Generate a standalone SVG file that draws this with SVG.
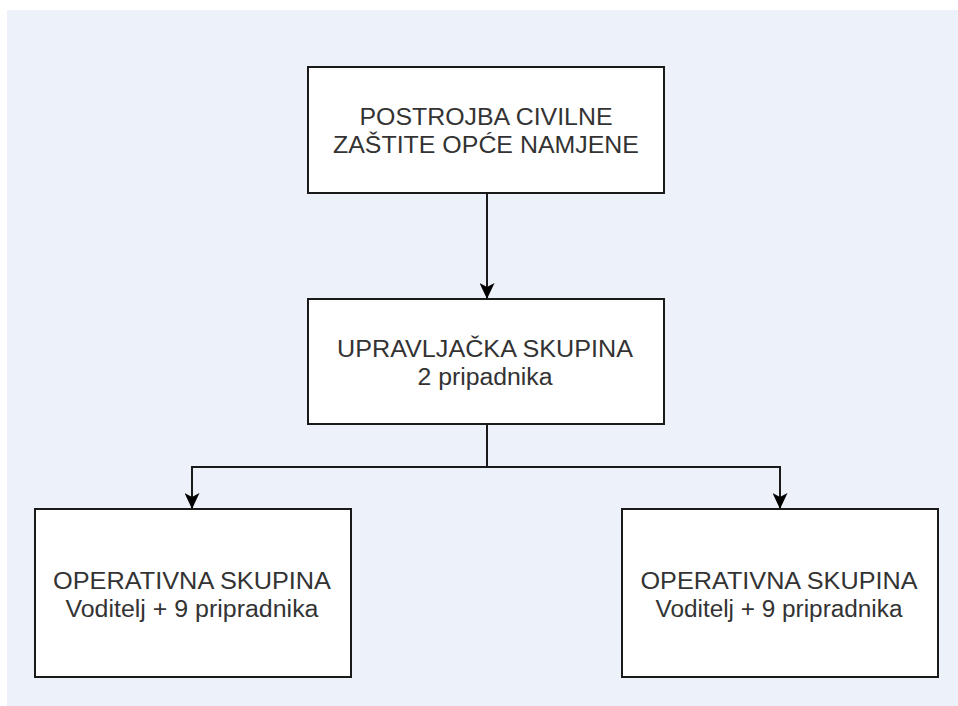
<svg xmlns="http://www.w3.org/2000/svg" width="958" height="706" viewBox="0 0 958 706">
  <style>
    .box { fill: #ffffff; stroke: #1a1a1a; stroke-width: 2; }
    .lbl { font-family: "Liberation Sans", Arial, sans-serif; font-size: 23px; fill: #333333; text-anchor: middle; }
    .edge { fill: none; stroke: #1a1a1a; stroke-width: 2; }
  </style>
  <defs>
    <marker id="arrow" markerUnits="userSpaceOnUse" markerWidth="16" markerHeight="15" refX="16" refY="7.5" orient="auto" viewBox="0 0 16 15">
      <path d="M0,0 L16,7.5 L0,15 L4,7.5 Z" fill="#000000"/>
    </marker>
  </defs>
  <rect x="7" y="10" width="951" height="696" fill="#edf1f9"/>

  <g id="connectors">
    <path class="edge" d="M487,193 L487,299" marker-end="url(#arrow)"/>
    <path class="edge" d="M487,424 L487,467 L192,467 L192,509" marker-end="url(#arrow)"/>
    <path class="edge" d="M487,467 L780,467 L780,509" marker-end="url(#arrow)"/>
  </g>

  <g id="node-postrojba">
    <rect class="box" x="308" y="67" width="356" height="126"/>
    <text class="lbl" x="486" y="125" textLength="253" lengthAdjust="spacingAndGlyphs">POSTROJBA CIVILNE</text>
    <text class="lbl" x="486" y="153" textLength="306" lengthAdjust="spacingAndGlyphs">ZAŠTITE OPĆE NAMJENE</text>
  </g>

  <g id="node-upravljacka">
    <rect class="box" x="308" y="299" width="356" height="125"/>
    <text class="lbl" x="485" y="357" textLength="296" lengthAdjust="spacingAndGlyphs">UPRAVLJAČKA SKUPINA</text>
    <text class="lbl" x="485" y="385" textLength="135" lengthAdjust="spacingAndGlyphs">2 pripadnika</text>
  </g>

  <g id="node-operativna-1">
    <rect class="box" x="35" y="509" width="316" height="168"/>
    <text class="lbl" x="192" y="589" textLength="278" lengthAdjust="spacingAndGlyphs">OPERATIVNA SKUPINA</text>
    <text class="lbl" x="192" y="617" textLength="253" lengthAdjust="spacingAndGlyphs">Voditelj + 9 pripradnika</text>
  </g>

  <g id="node-operativna-2">
    <rect class="box" x="622" y="509" width="316" height="168"/>
    <text class="lbl" x="779" y="589" textLength="277" lengthAdjust="spacingAndGlyphs">OPERATIVNA SKUPINA</text>
    <text class="lbl" x="779" y="617" textLength="247" lengthAdjust="spacingAndGlyphs">Voditelj + 9 pripradnika</text>
  </g>
</svg>
